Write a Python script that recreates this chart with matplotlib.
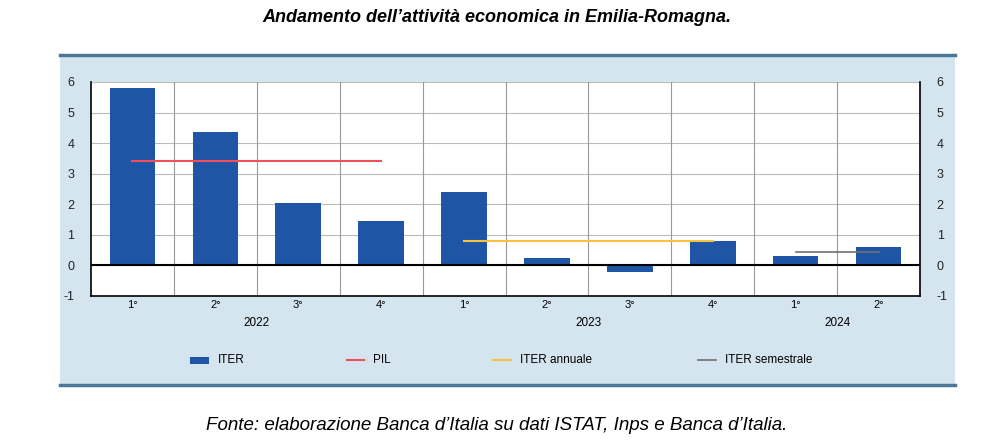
import matplotlib
matplotlib.use("Agg")
import matplotlib.pyplot as plt
from matplotlib.patches import Rectangle
from matplotlib.lines import Line2D
import matplotlib.transforms as mtrans

plt.rcParams['font.family'] = ['Liberation Sans', 'DejaVu Sans']
plt.rcParams['axes.unicode_minus'] = False

quarters = ["1°", "2°", "3°", "4°", "1°", "2°", "3°", "4°", "1°", "2°"]
years = ["2022", "2023", "2024"]
year_spans = [(0, 3), (4, 7), (8, 9)]
iter_vals = [5.8, 4.35, 2.05, 1.45, 2.4, 0.25, -0.2, 0.8, 0.3, 0.6]
pil = 3.4
iter_annuale = 0.8
iter_semestrale = 0.45
legend_labels = ["ITER", "PIL", "ITER annuale", "ITER semestrale"]

W, H = 994, 447
fig = plt.figure(figsize=(W/100, H/100), dpi=100)
fig.patch.set_facecolor("white")
fig.add_artist(Rectangle((60/W, 1-385/H), 895/W, 330/H, transform=fig.transFigure,
                         facecolor="#d5e5ef", edgecolor="none", zorder=-5))
for yy in (55, 385):
    fig.add_artist(Line2D([60/W, 955/W], [1-yy/H]*2, color="#4a7896", lw=2.5, zorder=-4))

ax = fig.add_axes([91/W, 1-296/H, 829/W, 214/H])
ax.set_zorder(2)
ax.set_facecolor("white")
n = len(iter_vals)
x = list(range(n))
ax.bar(x, iter_vals, width=0.55, color="#1f55a5", zorder=3)
ax.plot([year_spans[0][0], year_spans[0][1]], [pil]*2, color="#f0505a", lw=1.5, zorder=4)
ax.plot([year_spans[1][0], year_spans[1][1]], [iter_annuale]*2, color="#f5c242", lw=1.5, zorder=4)
ax.plot([year_spans[2][0], year_spans[2][1]], [iter_semestrale]*2, color="#707070", lw=1.2, zorder=4)
ax.set_xlim(-0.5, n-0.5)
ax.set_ylim(-1, 6)
ax.set_yticks(range(-1, 7))
ax.yaxis.grid(True, color="#bbbbbb", lw=0.8, zorder=0)
ax.set_axisbelow(True)
for b in range(n-1):
    ax.axvline(b+0.5, color="#999999", lw=0.8, zorder=1)
ax.axhline(0, color="black", lw=1.5, zorder=5)
ax.set_xticks([])
ax.tick_params(axis="y", length=0, labelsize=9, pad=12, left=True, right=True,
               labelleft=True, labelright=True, labelcolor="#222222")
for s in ["top", "right", "bottom"]:
    ax.spines[s].set_visible(False)
ax.spines["left"].set_color("black")
ax.spines["left"].set_linewidth(1.2)
ax.plot([n-0.5, n-0.5], [-1, 6], color="black", lw=1.2, clip_on=False, zorder=5)
ax.plot([-0.5, n-0.5], [-1, -1], color="black", lw=1.2, clip_on=False, zorder=5)

trans = mtrans.blended_transform_factory(ax.transData, fig.transFigure)
for i, q in enumerate(quarters):
    ax.text(i, 1-305/H, q, transform=trans, ha="center", va="center", fontsize=8)
for yl, (a, b) in zip(years, year_spans):
    ax.text((a+b)/2, 1-323/H, yl, transform=trans, ha="center", va="center", fontsize=8.5)
for bx in [-0.5, 3.5, 7.5, 9.5]:
    ax.add_artist(Line2D([bx, bx], [1-296/H, 1-328/H], transform=trans, color="#999999", lw=0.8))

# manual legend
ly = 1-360/H
fig.add_artist(Rectangle((190/W, ly-3.5/H), 19/W, 7/H, transform=fig.transFigure,
                         facecolor="#1f55a5", edgecolor="none"))
fig.add_artist(Line2D([347/W, 364/W], [ly]*2, color="#f0505a", lw=1.5))
fig.add_artist(Line2D([493/W, 511/W], [ly]*2, color="#f5c242", lw=1.5))
fig.add_artist(Line2D([698/W, 716/W], [ly]*2, color="#707070", lw=1.2))
for xx, lab in zip([218, 373, 520, 725], legend_labels):
    fig.text(xx/W, ly, lab, ha="left", va="center", fontsize=8.5)

fig.text(0.5, 1-18/H, "Andamento dell’attività economica in Emilia-Romagna.", ha="center",
         va="center", fontsize=13, fontweight="bold", style="italic")
fig.text(0.5, 1-425/H, "Fonte: elaborazione Banca d’Italia su dati ISTAT, Inps e Banca d’Italia.",
         ha="center", va="center", fontsize=13.5, style="italic")

fig.savefig("out.png", dpi=100)
